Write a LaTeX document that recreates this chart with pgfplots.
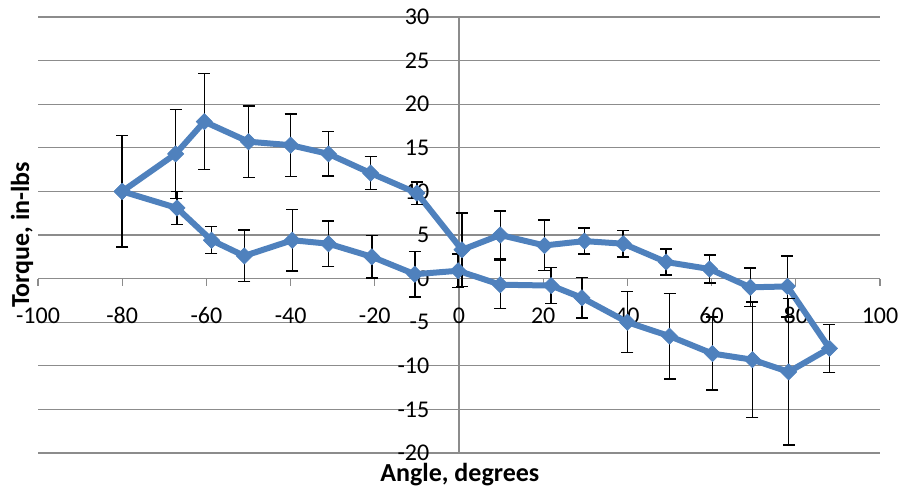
\documentclass[border=0pt]{standalone}
\usepackage{fontspec}
\setmainfont{Carlito}
\usepackage{pgfplots}
\pgfplotsset{compat=1.18}
\definecolor{xlblue}{RGB}{79,129,189}
\definecolor{gridgray}{RGB}{140,140,140}
\begin{document}
\begin{tikzpicture}
\path[use as bounding box] (0,0) rectangle (676.5pt,366pt);
\begin{axis}[
  at={(28.5pt,26.25pt)}, anchor=south west,
  scale only axis, width=631.5pt, height=327pt,
  xmin=-100, xmax=100, ymin=-20, ymax=30,
  axis x line=middle, axis y line=middle,
  axis line style={-, draw=gridgray, line width=1pt},
  hide obscured x ticks=false, hide obscured y ticks=false,
  xtick={-100,-80,...,100}, ytick={-20,-15,...,30},
  ymajorgrids, grid style={draw=gridgray, line width=1pt},
  xtick align=outside, major tick length=5.25pt,
  x tick style={draw=gridgray, line width=1pt},
  y tick style={draw=none},
  tick label style={font=\fontsize{18}{20}\selectfont, text=black},
  /pgf/number format/assume math mode=true,
  xticklabel style={anchor=base, yshift=-28.5pt, inner sep=0pt},
  yticklabel style={anchor=east, xshift=-19.5pt, inner sep=0pt},
  xlabel={Angle, degrees}, ylabel={Torque, in-lbs},
  label style={font=\fontsize{19.5}{22}\selectfont\bfseries, text=black},
  xlabel style={at={(axis description cs:0.501,-0.0505)}, anchor=center, inner sep=0pt},
  ylabel style={at={(axis description cs:-0.019,0.5)}, anchor=center, rotate=90, inner sep=0pt},
]
\addplot[color=xlblue, line width=4.5pt, line join=round,
  mark=square*, mark options={rotate=45, mark size=4.3pt, line width=0.5pt, fill=xlblue, draw=xlblue},
  error bars/.cd, y dir=both, y explicit,
  error bar style={black, line width=1.1pt},
  error mark options={rotate=90, black, line width=1.1pt, mark size=4.5pt}]
table[x=x, y=y, y error=e] {
x y e
-80 10.0 6.4
-67.3 14.3 5.1
-60.5 18.0 5.5
-50 15.7 4.1
-40 15.3 3.6
-31 14.3 2.55
-21 12.1 1.9
-10 9.8 1.3
0.7 3.3 4.2
9.8 5.0 2.75
20.3 3.8 2.9
29.8 4.3 1.5
39 4.0 1.5
49.2 1.9 1.5
59.5 1.1 1.6
69.2 -1.0 2.2
78 -0.9 3.5
88 -8.0 2.75
78.3 -10.7 8.4
69.7 -9.3 6.6
60.2 -8.6 4.2
50 -6.6 4.9
40 -5.0 3.5
29.2 -2.2 2.3
21.9 -0.8 2.05
9.8 -0.7 2.75
-0.2 0.9 1.9
-10.5 0.5 2.6
-20.7 2.5 2.45
-31 4.0 2.6
-39.6 4.4 3.55
-51 2.6 2.95
-58.8 4.4 1.55
-67 8.1 1.9
-80 10.0 6.4
};
\end{axis}
\end{tikzpicture}
\end{document}
